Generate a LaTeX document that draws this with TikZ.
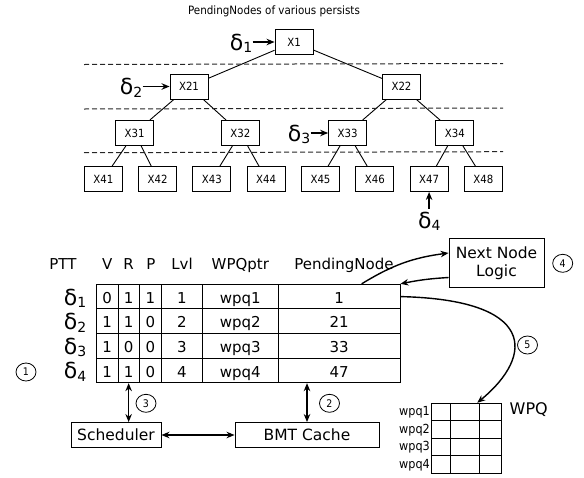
\documentclass[tikz,border=0pt]{standalone}
\usepackage{fontspec}
\setmainfont{DejaVu Sans}
\newfontfamily\narrowfont{DejaVu Sans}[FakeStretch=0.9]
\usetikzlibrary{arrows.meta,shapes.geometric}

\newcommand{\dlt}[1]{{\fontsize{22}{22}\selectfont δ}\raisebox{-2.5pt}{\fontsize{14}{14}\selectfont #1}}

\begin{document}
\begin{tikzpicture}[x=1pt,y=-1pt,
  >={Stealth[length=8pt,width=6.5pt]},
  tnode/.style={draw,line width=0.9pt,minimum width=38pt,minimum height=25pt,inner sep=0pt,font=\narrowfont\fontsize{11.3}{12}\selectfont},
  cell/.style={draw,line width=0.9pt,minimum height=24.6pt,inner sep=0pt,text height=14pt,text depth=0.6pt,font=\fontsize{15}{15}\selectfont},
  hdr/.style={anchor=base,inner sep=0pt,font=\fontsize{15}{15}\selectfont},
  box/.style={draw,line width=0.9pt,minimum height=25pt,inner sep=0pt,font=\fontsize{15.5}{18.5}\selectfont},
  num/.style={draw,ellipse,line width=0.8pt,minimum width=20pt,minimum height=18pt,inner sep=0pt,font=\narrowfont\fontsize{10.5}{10.5}\selectfont},
  qcell/.style={draw,line width=0.9pt,minimum height=17.5pt,inner sep=0pt},
  level/.style={dash pattern=on 5pt off 3pt,line width=1pt,black!85},
  conn/.style={line width=1.4pt}
]
\useasboundingbox (0,0) rectangle (584,477);

\node[font=\narrowfont\fontsize{11.5}{12}\selectfont] (title) at (274,11) {PendingNodes of various persists};

% tree
\node[tnode] (x1) at (294,42) {X1};
\node[tnode] (x21) at (189,86.5) {X21};
\node[tnode] (x22) at (401.5,86.5) {X22};
\foreach \k/\xx in {1/134.7,2/240.4,3/347.6,4/454.9}
  \node[tnode] (x3\k) at (\xx,133) {X3\k};
\foreach \k in {1,...,8}
  \node[tnode] (x4\k) at ({103.3+54.3*(\k-1)},179) {X4\k};

\draw[line width=0.9pt] (x1) -- (x21);
\draw[line width=0.9pt] (x1) -- (x22);
\draw[line width=0.9pt] (x21) -- (x31);
\draw[line width=0.9pt] (x21) -- (x32);
\draw[line width=0.9pt] (x22) -- (x33);
\draw[line width=0.9pt] (x22) -- (x34);
\foreach \k in {1,...,4}{
  \pgfmathtruncatemacro\ka{2*\k-1}
  \pgfmathtruncatemacro\kb{2*\k}
  \draw[line width=0.9pt] (x3\k) -- (x4\ka);
  \draw[line width=0.9pt] (x3\k) -- (x4\kb);
}

\draw[level] (84,64.5) -- (503,63.5);
\draw[level] (84,109) -- (503,108);
\draw[level] (84,152.7) -- (503,151.7);

\node[anchor=base east,inner sep=0pt] (dl1) at (252.5,50) {\dlt{1}};
\node[anchor=base east,inner sep=0pt] (dl2) at (142.5,94.5) {\dlt{2}};
\node[anchor=base east,inner sep=0pt] (dl3) at (310.5,141) {\dlt{3}};
\node[anchor=base west,inner sep=0pt] (dl4) at (418,228.3) {\dlt{4}};
\draw[conn,->] (dl1.east |- x1.west) -- (x1.west);
\draw[conn,->] (dl2.east |- x21.west) -- (x21.west);
\draw[conn,->] (dl3.east |- x33.west) -- (x33.west);
\draw[conn,->] ([yshift=3pt]x47.south |- dl4.north) -- (x47.south);

% PTT
\node[hdr] (hptt) at (63,269.3) {PTT};
\node[hdr] (hv) at (107.15,269.3) {V};
\node[hdr] (hr) at (128.65,269.3) {R};
\node[hdr] (hp) at (151,269.3) {P};
\node[hdr] (hl) at (182,269.3) {Lvl};
\node[hdr] (hw) at (240.3,269.3) {WPQptr};
\node[hdr] (hn) at (344,269.3) {PendingNode};

\foreach \k/\yy/\va/\vb/\vc/\vd/\ve/\vf in {1/296.6/0/1/1/1/wpq1/1,2/321.2/1/1/0/2/wpq2/21,3/345.8/1/0/0/3/wpq3/33,4/370.4/1/1/0/4/wpq4/47}{
  \node[anchor=base east,inner sep=0pt] (d\k) at (86.5,\yy+8.4) {\dlt{\k}};
  \node[cell,minimum width=22.3pt] (v\k) at (107.15,\yy) {\va};
  \node[cell,minimum width=20.7pt] (r\k) at (128.65,\yy) {\vb};
  \node[cell,minimum width=22.7pt] (p\k) at (150.35,\yy) {\vc};
  \node[cell,minimum width=40.6pt] (l\k) at (182,\yy) {\vd};
  \node[cell,minimum width=76pt] (w\k) at (240.3,\yy) {\ve};
  \node[cell,minimum width=121.7pt] (n\k) at (339.15,\yy) {\vf};
}

\node[num] (c1) at (26,372) {1};

\node[box,minimum width=90pt] (sched) at (116,435) {Scheduler};
\node[box,minimum width=144pt] (bmt) at (307,435) {BMT Cache};
\node[box,minimum width=95pt,minimum height=49pt,align=center] (nnl) at (496.5,263) {Next Node\\Logic};

\draw[conn,<->] (r4.south) -- (r4.south |- sched.north);
\node[num] (c3) at (146,403.3) {3};
\draw[conn,<->] (bmt.north |- n4.south) -- (bmt.north);
\node[num] (c2) at (329.5,403.3) {2};
\draw[conn,<->] (sched) -- (bmt);

\draw[conn,->] ([xshift=22.5pt]n1.north) to[bend left=12] ([yshift=10pt]nnl.west);
\draw[conn,->] ([yshift=-14.5pt]nnl.west) to[bend right=4] (n1.north east);
\node[num] (c4) at (562.7,263.3) {4};
\node[num] (c5) at (527.5,345) {5};

% WPQ
\foreach \k/\yy in {1/412,2/429.5,3/447,4/464.5}{
  \node[qcell,minimum width=18.3pt] (qa\k) at (440.85,\yy) {};
  \node[qcell,minimum width=29.3pt] (qb\k) at (464.65,\yy) {};
  \node[qcell,minimum width=21.7pt] (qc\k) at (490.15,\yy) {};
  \node[anchor=base east,inner sep=0pt,font=\narrowfont\fontsize{12.5}{12.5}\selectfont] (ql\k) at (430,\yy+3.5) {wpq\k};
}
\node[anchor=west,inner sep=0pt,font=\fontsize{16}{16}\selectfont] (wpq) at (509.5,410) {WPQ};

\draw[conn,->] (n1.east) .. controls +(135,3) and +(58,-48) .. ([xshift=-2.5pt]qb1.north east);
\end{tikzpicture}
\end{document}
